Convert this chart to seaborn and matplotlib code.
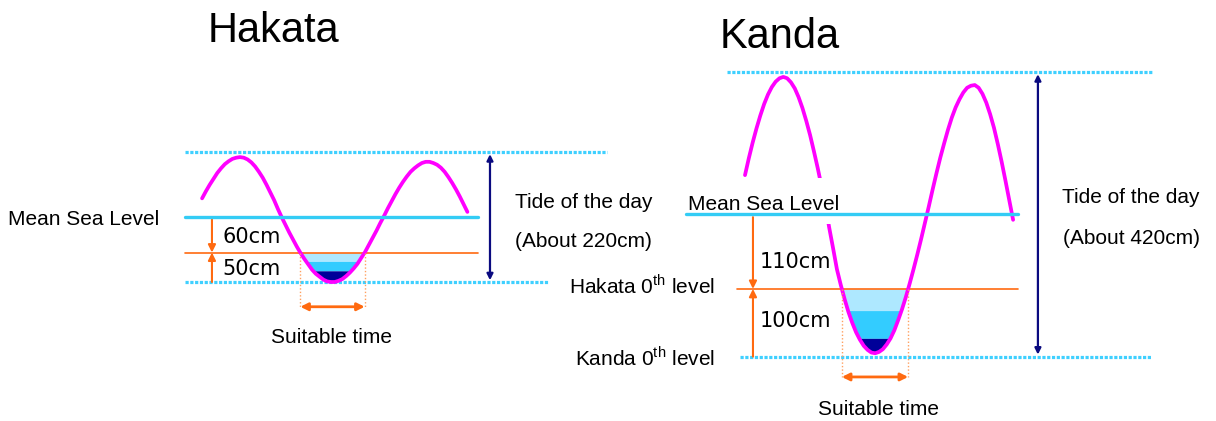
import numpy as np
import matplotlib
matplotlib.use("Agg")
import matplotlib.pyplot as plt
import seaborn as sns
from matplotlib.patches import Rectangle

# tide height in cm relative to mean sea level, read every quarter hour
hours = [-2.5, -2.25, -2.0, -1.75, -1.5, -1.25, -1.0, -0.75, -0.5, -0.25,
         0.0, 0.25, 0.5, 0.75, 1.0, 1.25, 1.5, 1.75, 2.0, 2.25,
         2.5, 2.75, 3.0, 3.25, 3.5, 3.75, 4.0, 4.25, 4.5, 4.75,
         5.0, 5.25, 5.5, 5.75, 6.0, 6.25, 6.5, 6.75, 7.0, 7.25,
         7.5, 7.75, 8.0, 8.25, 8.5, 8.75, 9.0, 9.25, 9.5, 9.75,
         10.0, 10.25, 10.5, 10.75, 11.0, 11.25, 11.5, 11.75, 12.0, 12.25,
         12.5, 12.75, 13.0, 13.25, 13.5, 13.75, 14.0, 14.25, 14.5, 14.75,
         15.0]
hakata_tide = [32, 44, 55, 65, 75, 83, 90, 95, 99, 101,
               102, 101, 98, 93, 86, 77, 67, 55, 42, 29,
               14, 0, -13, -26, -38, -50, -61, -71, -80, -89,
               -96, -101, -106, -109, -110, -110, -108, -105, -100, -94,
               -87, -79, -69, -59, -47, -35, -23, -10, 2, 15,
               27, 39, 50, 60, 69, 77, 83, 88, 92, 94,
               94, 92, 89, 84, 77, 68, 58, 47, 35, 22,
               9]
kanda_tide = [58, 83, 106, 127, 146, 163, 177, 188, 196, 201,
              203, 201, 195, 186, 173, 157, 138, 117, 93, 68,
              41, 13, -20, -50, -81, -104, -125, -144, -160, -174,
              -185, -194, -200, -204, -205, -203, -199, -192, -183, -171,
              -156, -140, -122, -102, -81, -59, -36, -12, 12, 37,
              61, 84, 105, 125, 143, 158, 170, 180, 187, 190,
              191, 187, 178, 165, 148, 128, 104, 78, 50, 21,
              -8]

# reference levels (cm from mean sea level)
hakata_levels = {"high": 110, "msl": 0, "hakata0": -60, "low": -110}
kanda_levels = {"high": 210, "msl": 0, "hakata0": -110, "low": -210}
hakata_labels = ["60cm", "50cm", "(About 220cm)"]
kanda_labels = ["110cm", "100cm", "(About 420cm)"]
# water depth bands below Hakata 0th level
hakata_bands = [-60, -75, -91]
kanda_bands = [-110, -142, -183]

MAGENTA = "#ff00ff"
CYAN = "#33ccf5"
DOT = "#3fd0ff"
ORANGE = "#ff6a10"
NAVY = "#0a0a80"
BAND_COLORS = ["#aee8ff", "#33ccff", "#000099"]

sns.set_style("white")
plt.rcParams["font.family"] = ["Liberation Sans", "DejaVu Sans"]
plt.rcParams["mathtext.fontset"] = "custom"
plt.rcParams["mathtext.rm"] = "Liberation Sans"
plt.rcParams["text.color"] = "black"

W, H = 1216, 421
fig = plt.figure(figsize=(W / 100, H / 100), dpi=100)


def panel(x0, px_h, y0, px_cm):
    ax = fig.add_axes([0, 0, 1, 1])
    ax.patch.set_alpha(0)
    ax.axis("off")
    lims = ((-x0 / px_h, (W - x0) / px_h), ((y0 - H) / px_cm, y0 / px_cm))
    return ax, lims


def ftext(x, y, s, size=15, **kw):
    fig.text(x / W, 1 - y / H, s, va="baseline", fontsize=size, **kw)


def arrow(ax, x0, y0, x1, y1, color, style="-|>", lw=1.5, ms=9):
    ax.annotate("", xy=(x1, y1), xytext=(x0, y0),
                arrowprops=dict(arrowstyle=style, color=color, lw=lw,
                                mutation_scale=ms, shrinkA=0, shrinkB=0))


def crossings(t, h, level):
    t = np.asarray(t, float)
    h = np.asarray(h, float)
    out = []
    for i in range(len(h) - 1):
        if (h[i] - level) * (h[i + 1] - level) < 0:
            out.append(t[i] + (level - h[i]) / (h[i + 1] - h[i]) * (t[i + 1] - t[i]))
    return out


def draw_panel(ax, lims, tide, lv, bands, ext, arrow_y, mask=None):
    t = np.array(hours)
    h = np.array(tide)
    # reference lines
    ax.plot(ext["top"], [lv["high"]] * 2, color=DOT, lw=2.3, ls=(0, (1, 0.5)))
    ax.plot(ext["bot"], [lv["low"]] * 2, color=DOT, lw=2.3, ls=(0, (1, 0.5)))
    ax.plot(ext["msl"], [lv["msl"]] * 2, color=CYAN, lw=2.4, zorder=4)
    ax.plot(ext["org"], [lv["hakata0"]] * 2, color=ORANGE, lw=1.2)

    # water bands in the trough
    edges = bands + [lv["low"] - 50]
    for hi, lo, c in zip(edges[:-1], edges[1:], BAND_COLORS):
        ax.fill_between(t, np.maximum(h, lo), hi, where=h < hi,
                        interpolate=True, color=c, lw=0)

    sns.lineplot(x=hours, y=tide, ax=ax, color=MAGENTA, linewidth=2.7,
                 sort=False, estimator=None, solid_capstyle="round", zorder=2)

    if mask is not None:
        (mx0, mx1), (my0, my1) = mask
        ax.add_patch(Rectangle((mx0, my0), mx1 - mx0, my1 - my0,
                               facecolor="white", lw=0, zorder=3))

    # suitable time
    c0, c1 = crossings(hours, tide, lv["hakata0"])
    for c in (c0, c1):
        ax.plot([c, c], [lv["hakata0"], arrow_y], color="#ffa060", lw=1.0,
                ls=(0, (1, 1.5)))
    arrow(ax, c0, arrow_y, c1, arrow_y, ORANGE, "<|-|>", lw=2.0, ms=11)

    # orange depth arrows
    xa = ext["oarrow"]
    arrow(ax, xa, lv["msl"] - 4, xa, lv["hakata0"], ORANGE, ms=11, lw=1.5)
    arrow(ax, xa, lv["low"], xa, lv["hakata0"], ORANGE, ms=11, lw=1.5)
    # tide range arrow
    xn = ext["narrow"]
    arrow(ax, xn, lv["low"] + 3, xn, lv["high"] - 3, NAVY, "<|-|>", lw=1.6, ms=9)

    ax.set_xlim(*lims[0])
    ax.set_ylim(*lims[1])


ax1, lims1 = panel(240, 15.16, 217.2, 0.5892)
draw_panel(ax1, lims1, hakata_tide, hakata_levels, hakata_bands,
           {"top": [-3.63, 24.21], "bot": [-3.63, 20.32], "msl": [-3.63, 15.7],
            "org": [-3.63, 15.7], "oarrow": -1.85, "narrow": 16.49}, -152)

ax2, lims2 = panel(783.3, 15.32, 214.4, 0.6773)
draw_panel(ax2, lims2, kanda_tide, kanda_levels, kanda_bands,
           {"top": [-3.68, 24.06], "bot": [-2.83, 24.06], "msl": [-6.35, 15.32],
            "org": [-3.02, 15.32], "oarrow": -1.98, "narrow": 16.62}, -240,
           mask=((-6.35, 3.8), (-14, 54)))

# texts
ftext(208, 42, "Hakata", size=30)
ftext(720, 48, "Kanda", size=30)

ftext(8, 225, "Mean Sea Level")
ftext(222, 243, hakata_labels[0], family="DejaVu Sans")
ftext(222, 275, hakata_labels[1], family="DejaVu Sans")
ftext(515, 208, "Tide of the day")
ftext(515, 247, hakata_labels[2])
ftext(331.5, 343, "Suitable time", ha="center")

ftext(688, 210, "Mean Sea Level")
ftext(760, 268, kanda_labels[0], family="DejaVu Sans")
ftext(760, 327, kanda_labels[1], family="DejaVu Sans")
ftext(715, 293, r"Hakata 0$^{\rm th}$ level", ha="right")
ftext(715, 365, r"Kanda 0$^{\rm th}$ level", ha="right")
ftext(1062, 203, "Tide of the day")
ftext(1063, 244, kanda_labels[2])
ftext(879, 415, "Suitable time", ha="center")

fig.savefig("out.png", dpi=100, facecolor="white")
